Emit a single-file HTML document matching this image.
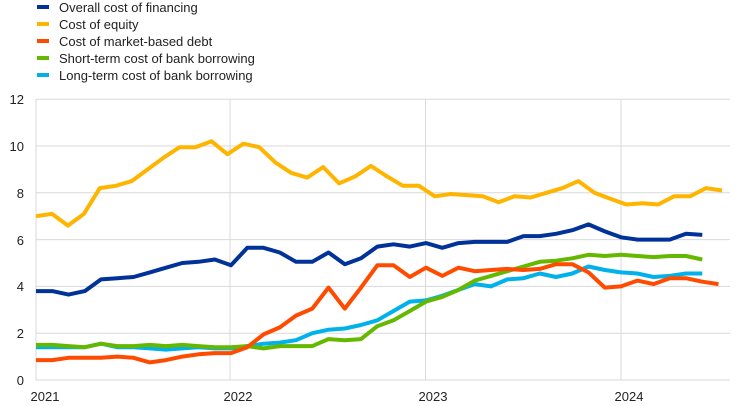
<!DOCTYPE html>
<html><head><meta charset="utf-8"><style>
body{margin:0;background:#fff;}
svg{display:block;font-family:"Liberation Sans",Arial,sans-serif;}
</style></head><body>
<svg id="c" width="744" height="406" xmlns="http://www.w3.org/2000/svg">
<rect width="744" height="406" fill="#fff"/>
<g stroke="#d9d9d9" stroke-width="1">
<line x1="36" x2="730" y1="333.2" y2="333.2"/>
<line x1="36" x2="730" y1="286.4" y2="286.4"/>
<line x1="36" x2="730" y1="239.6" y2="239.6"/>
<line x1="36" x2="730" y1="192.8" y2="192.8"/>
<line x1="36" x2="730" y1="146" y2="146"/>
<line x1="36" x2="730" y1="99.2" y2="99.2"/>
<line x1="230" x2="230" y1="99" y2="380"/>
<line x1="425.5" x2="425.5" y1="99" y2="380"/>
<line x1="621" x2="621" y1="99" y2="380"/>
<line x1="36" x2="36" y1="99" y2="380"/>
<line x1="36" x2="730" y1="380" y2="380"/>
</g>
<g font-size="13" fill="#222" text-anchor="end">
<text x="24" y="385">0</text><text x="24" y="338">2</text><text x="24" y="291">4</text>
<text x="24" y="245">6</text><text x="24" y="198">8</text><text x="24" y="151">10</text><text x="24" y="104">12</text>
</g>
<g font-size="13" fill="#222" text-anchor="middle">
<text x="45" y="401">2021</text><text x="238" y="401">2022</text><text x="433" y="401">2023</text><text x="629" y="401">2024</text>
</g>
<g font-size="13" fill="#222">
<rect x="37" y="5" width="12" height="4" fill="#003299"/><text x="59" y="12">Overall cost of financing</text>
<rect x="37" y="22" width="12" height="4" fill="#ffb400"/><text x="59" y="29">Cost of equity</text>
<rect x="37" y="39" width="12" height="4" fill="#ff4b00"/><text x="59" y="46">Cost of market-based debt</text>
<rect x="37" y="56" width="12" height="4" fill="#65b800"/><text x="59" y="63">Short-term cost of bank borrowing</text>
<rect x="37" y="73" width="12" height="4" fill="#00b1ea"/><text x="59" y="80">Long-term cost of bank borrowing</text>
</g>
<g id="lines" fill="none" stroke-width="4" stroke-linejoin="round"></g>
</svg>
<script>
var S=[
["#00b1ea",[1.4,1.4,1.4,1.4,1.55,1.4,1.4,1.35,1.3,1.35,1.4,1.35,1.35,1.45,1.55,1.6,1.7,2.0,2.15,2.2,2.35,2.55,2.95,3.35,3.4,3.6,3.85,4.1,4.0,4.3,4.35,4.55,4.4,4.55,4.85,4.7,4.6,4.55,4.4,4.45,4.55,4.55]],
["#65b800",[1.5,1.5,1.45,1.4,1.55,1.45,1.45,1.5,1.45,1.5,1.45,1.4,1.4,1.45,1.35,1.45,1.45,1.45,1.75,1.7,1.75,2.3,2.55,2.95,3.35,3.55,3.85,4.25,4.45,4.65,4.85,5.05,5.1,5.2,5.35,5.3,5.35,5.3,5.25,5.3,5.3,5.15]],
["#ff4b00",[0.85,0.85,0.95,0.95,0.95,1.0,0.95,0.75,0.85,1.0,1.1,1.15,1.15,1.4,1.95,2.25,2.75,3.05,3.95,3.05,3.95,4.9,4.9,4.4,4.8,4.45,4.8,4.65,4.7,4.75,4.7,4.75,4.95,4.95,4.6,3.95,4.0,4.25,4.1,4.35,4.35,4.2,4.1]],
["#ffb400",[7.0,7.1,6.6,7.1,8.2,8.3,8.5,9.0,9.5,9.95,9.95,10.2,9.65,10.1,9.95,9.3,8.85,8.65,9.1,8.4,8.7,9.15,8.7,8.3,8.3,7.85,7.95,7.9,7.85,7.6,7.85,7.8,8.0,8.2,8.5,8.0,7.75,7.5,7.55,7.5,7.85,7.85,8.2,8.1]],
["#003299",[3.8,3.8,3.65,3.8,4.3,4.35,4.4,4.6,4.8,5.0,5.05,5.15,4.9,5.65,5.65,5.45,5.05,5.05,5.45,4.95,5.2,5.7,5.8,5.7,5.85,5.65,5.85,5.9,5.9,5.9,6.15,6.15,6.25,6.4,6.65,6.35,6.1,6.0,6.0,6.0,6.25,6.2]]
];
var g=document.getElementById("lines"),ns="http://www.w3.org/2000/svg";
S.forEach(function(s){var n=s[1].length,step=(n>=44?686/43:16.25);
var p=s[1].map(function(v,i){return (36+i*step).toFixed(1)+","+(380-v*23.4).toFixed(1)}).join(" ");
var e=document.createElementNS(ns,"polyline");e.setAttribute("points",p);e.setAttribute("stroke",s[0]);g.appendChild(e);});
</script>
</body></html>
